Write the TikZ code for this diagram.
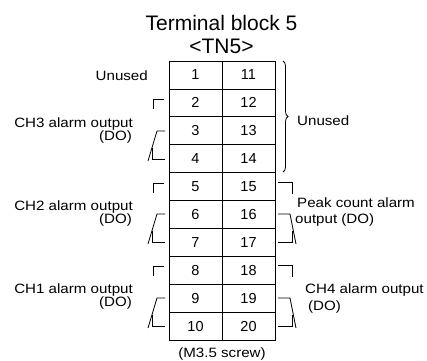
\documentclass[tikz,border=0pt]{standalone}
\usepackage{fontspec}
\setmainfont{Liberation Sans}
\newfontfamily\lblfont[FakeStretch=1.12]{Liberation Sans}
\usetikzlibrary{decorations.pathreplacing}

\tikzset{
  cell/.style={draw, line width=0.8pt, minimum width=53pt, minimum height=27.9pt, inner sep=0pt, font=\fontsize{14.5}{14.5}\selectfont},
  lbl/.style={inner sep=0pt, font=\lblfont\fontsize{13.5}{13.5}\selectfont},
  contact/.style={line width=0.8pt},
}

\begin{document}
\begin{tikzpicture}[x=1pt, y=-1pt]
    \useasboundingbox (0,0) rectangle (427,360);

    \node[anchor=base, inner sep=0pt, font=\fontsize{21}{21}\selectfont] (title) at (221.5,30) {Terminal block 5};
    \node[anchor=base, inner sep=0pt, font=\fontsize{21}{21}\selectfont] (tn5) at (221.5,53) {<TN5>};

    \node[cell] (t1) at (195.5,74.95) {1};
    \node[cell] (t2) at (195.5,102.85) {2};
    \node[cell] (t3) at (195.5,130.75) {3};
    \node[cell] (t4) at (195.5,158.65) {4};
    \node[cell] (t5) at (195.5,186.55) {5};
    \node[cell] (t6) at (195.5,214.45) {6};
    \node[cell] (t7) at (195.5,242.35) {7};
    \node[cell] (t8) at (195.5,270.25) {8};
    \node[cell] (t9) at (195.5,298.15) {9};
    \node[cell] (t10) at (195.5,326.05) {10};
    \node[cell] (t11) at (248.5,74.95) {11};
    \node[cell] (t12) at (248.5,102.85) {12};
    \node[cell] (t13) at (248.5,130.75) {13};
    \node[cell] (t14) at (248.5,158.65) {14};
    \node[cell] (t15) at (248.5,186.55) {15};
    \node[cell] (t16) at (248.5,214.45) {16};
    \node[cell] (t17) at (248.5,242.35) {17};
    \node[cell] (t18) at (248.5,270.25) {18};
    \node[cell] (t19) at (248.5,298.15) {19};
    \node[cell] (t20) at (248.5,326.05) {20};

    \node[lbl, anchor=base] (screw) at (222,357) {(M3.5 screw)};

    % left side
    \node[lbl, anchor=base east] (unusedL) at (148,80) {Unused};
    \node[lbl, anchor=base east] (ch3) at (133,127) {CH3 alarm output};
    \node[lbl, anchor=base east] (ch3do) at (132,140) {(DO)};
    \node[lbl, anchor=base east] (ch2) at (133,210) {CH2 alarm output};
    \node[lbl, anchor=base east] (ch2do) at (132,223) {(DO)};
    \node[lbl, anchor=base east] (ch1) at (133,293) {CH1 alarm output};
    \node[lbl, anchor=base east] (ch1do) at (132,306) {(DO)};

    \draw[contact] (164,99) -- (153,99) -- (153,109);
    \draw[contact] (165,131) -- (157,131) -- (148,161);
    \draw[contact] (152,148) -- (152,159) -- (165,159);

    \draw[contact] (164,183) -- (153,183) -- (153,193);
    \draw[contact] (165,214) -- (157,214) -- (148,244);
    \draw[contact] (152,231) -- (152,242) -- (165,242);

    \draw[contact] (164,266) -- (153,266) -- (153,276);
    \draw[contact] (165,298) -- (157,298) -- (148,328);
    \draw[contact] (152,315) -- (152,326) -- (165,326);

    % right side
    \draw[line width=0.8pt, decorate, decoration={brace, amplitude=5pt}] (283,61) -- (283,172);
    \node[lbl, anchor=base west] (unusedR) at (297,125) {Unused};
    \node[lbl, anchor=base west] (peak) at (297,207) {Peak count alarm};
    \node[lbl, anchor=base west] (peakdo) at (295,223.5) {output (DO)};
    \node[lbl, anchor=base west] (ch4) at (305,293.5) {CH4 alarm output};
    \node[lbl, anchor=base west] (ch4do) at (308,310) {(DO)};

    \draw[contact] (278,182) -- (292,182) -- (292,194);
    \draw[contact] (278,214) -- (290,214) -- (296,244);
    \draw[contact] (292,231) -- (292,242) -- (278,242);

    \draw[contact] (278,265) -- (292,265) -- (292,277);
    \draw[contact] (278,298) -- (290,298) -- (296,328);
    \draw[contact] (292,315) -- (292,326) -- (278,326);

\end{tikzpicture}
\end{document}
